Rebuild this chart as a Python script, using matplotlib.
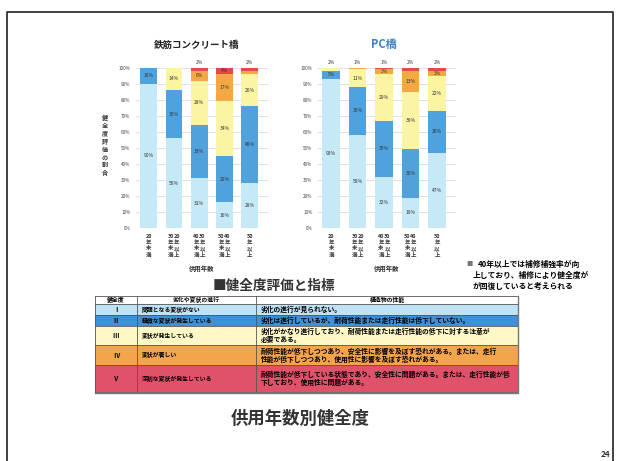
import re
import matplotlib
matplotlib.use("Agg")
import matplotlib.pyplot as plt
from matplotlib.patches import Rectangle

plt.rcParams['font.family'] = ['Noto Sans CJK JP', 'DejaVu Sans']

# ---- data -------------------------------------------------------------
categories = ["20年未満", "20年以上|30年未満", "30年以上|40年未満",
              "40年以上|50年未満", "50年以上"]
grades = ["Ⅰ", "Ⅱ", "Ⅲ", "Ⅳ", "Ⅴ"]

rc_I = [90, 56, 31, 16, 28]
rc_II = [10, 30, 33, 29, 48]
rc_III = [0, 14, 28, 34, 20]
rc_IV = [0, 0, 6, 17, 2]
rc_V = [0, 0, 2, 4, 2]

pc_I = [93, 58, 32, 19, 47]
pc_II = [5, 30, 35, 30, 26]
pc_III = [2, 11, 29, 36, 22]
pc_IV = [0, 1, 3, 13, 3]
pc_V = [0, 0, 1, 2, 2]

yticks = list(range(0, 101, 10))

table_header = ["健全度", "劣化や変状の進行", "構造物の性能"]
table_state = ["問題となる変状がない", "軽微な変状が発生している", "変状が発生している",
               "変状が著しい", "深刻な変状が発生している"]
table_perf = [
    "劣化の進行が見られない。",
    "劣化は進行しているが、耐荷性能または走行性能は低下していない。",
    "劣化がかなり進行しており、耐荷性能または走行性能の低下に対する注意が\n必要である。",
    "耐荷性能が低下しつつあり、安全性に影響を及ぼす恐れがある。または、走行\n性能が低下しつつあり、使用性に影響を及ぼす恐れがある。",
    "耐荷性能が低下している状態であり、安全性に問題がある。または、走行性能が低\n下しており、使用性に問題がある。",
]

bar_colors = ["#c6e9f7", "#4fa2dc", "#fbf4a2", "#f4a844", "#e5484f"]
row_colors = ["#bfe2f4", "#3f90d4", "#fdf8c6", "#f2a54c", "#e0526a"]

# ---- figure -----------------------------------------------------------
W, H = 620, 461
fig = plt.figure(figsize=(W / 100, H / 100), dpi=100)
fig.patch.set_facecolor("white")


def px_axes(x0, y_top, x1, y_bot):
    return fig.add_axes([x0 / W, 1 - y_bot / H, (x1 - x0) / W, (y_bot - y_top) / H])


def cells(s):
    return re.findall(r"\d+|.", s)


def stacked_bars(ax, series):
    n = len(series[0])
    xs = list(range(n))
    bottoms = [0] * n
    for k, vals in enumerate(series):
        ax.bar(xs, vals, bottom=bottoms, width=0.66, color=bar_colors[k],
               edgecolor="none", zorder=2)
        for i, v in enumerate(vals):
            if v <= 0:
                continue
            top_seg = all(series[j][i] == 0 for j in range(k + 1, len(series)))
            if v <= 2 and top_seg:
                ax.text(i, 101.5, f"{v}%", ha="center", va="bottom",
                        fontsize=3.5, color="#333333", zorder=3)
            elif v >= 3:
                ax.text(i, bottoms[i] + v / 2, f"{v}%", ha="center", va="center",
                        fontsize=3.5, color="#333333", zorder=3)
        bottoms = [b + v for b, v in zip(bottoms, vals)]
    ax.set_xlim(-0.5, 4.72)
    ax.set_ylim(0, 100)
    ax.set_yticks(yticks)
    ax.set_yticklabels([f"{t}%" for t in yticks], fontsize=3.3, color="#444444")
    ax.tick_params(axis="y", length=0, pad=4)
    ax.set_xticks([])
    ax.yaxis.grid(True, color="#dadada", lw=0.6, zorder=0)
    for s in ax.spines.values():
        s.set_visible(False)
    for i, cat in enumerate(categories):
        parts = cat.split("|")
        m = len(parts)
        for j, part in enumerate(parts):
            dx = (m - 1) * 3.0 - j * 6.0
            ax.annotate("\n".join(cells(part)), xy=(i, 0),
                        xycoords=("data", "axes fraction"), xytext=(dx, -6),
                        textcoords="offset pixels", ha="center", va="top",
                        fontsize=3.9, linespacing=1.3, fontweight="bold",
                        color="#333333")
    ax.annotate("供用年数", xy=(0.5, 0), xycoords="axes fraction",
                xytext=(0, -37), textcoords="offset pixels", ha="center",
                va="top", fontsize=4.6, fontweight="bold", color="#333333")


ax1 = px_axes(136, 67.7, 268, 228)
stacked_bars(ax1, [rc_I, rc_II, rc_III, rc_IV, rc_V])

ax2 = px_axes(318, 67.7, 456, 228)
stacked_bars(ax2, [pc_I, pc_II, pc_III, pc_IV, pc_V])

# ---- overlay in pixel coordinates ----------------------------------
ov = fig.add_axes([0, 0, 1, 1], zorder=-1)
ov.set_xlim(0, W)
ov.set_ylim(H, 0)
ov.axis("off")

# slide frame
ov.plot([7, 7, 613, 613], [470, 12, 12, 470], color="#333333", lw=1.3)

# chart titles
ov.text(197, 45, "鉄筋コンクリート橋", fontsize=6.8, fontweight="bold",
        ha="center", va="center", color="#222222")
ov.text(384, 44, "PC橋", fontsize=8, fontweight="bold",
        ha="center", va="center", color="#3d7fc4")

ov.text(105, 145, "\n".join("健全度評価の割合"), ha="center", va="center",
        fontsize=4.4, linespacing=1.15, fontweight="bold", color="#333333")

# note on the right
ov.text(466, 264, "■", fontsize=4.5, color="#777777", ha="left", va="center")
note = ["40年以上では補修補強率が向", "上しており、補修により健全度が",
        "が回復していると考えられる"]
ov.text(478, 264, note[0], fontsize=5.6, fontweight="bold", ha="left", va="center")
ov.text(473, 275, note[1], fontsize=5.6, fontweight="bold", ha="left", va="center")
ov.text(473, 286, note[2], fontsize=5.6, fontweight="bold", ha="left", va="center")

# table
ov.text(274, 286, "■健全度評価と指標", fontsize=9.8, fontweight="bold",
        ha="center", va="center", color="#333333")
cols = [95, 137, 256, 518]
rows = [296, 304, 315, 326, 345, 365, 392]
for r in range(5):
    ov.add_patch(Rectangle((cols[0], rows[r + 1]), cols[3] - cols[0],
                           rows[r + 2] - rows[r + 1], facecolor=row_colors[r],
                           edgecolor="none"))
for y in rows:
    ov.plot([cols[0], cols[3]], [y, y], color="#555555", lw=0.6)
for x in cols:
    ov.plot([x, x], [rows[0], rows[-1]], color="#555555", lw=0.6)
ov.plot([cols[0], cols[3], cols[3]], [rows[-1] + 1, rows[-1] + 1, rows[0]],
        color="#777777", lw=1.0)

yc = (rows[0] + rows[1]) / 2
ov.text((cols[0] + cols[1]) / 2, yc, table_header[0], fontsize=4.2,
        fontweight="bold", ha="center", va="center")
ov.text((cols[1] + cols[2]) / 2, yc, table_header[1], fontsize=4.2,
        fontweight="bold", ha="center", va="center")
ov.text((cols[2] + cols[3]) / 2, yc, table_header[2], fontsize=4.2,
        fontweight="bold", ha="center", va="center")
for r in range(5):
    yc = (rows[r + 1] + rows[r + 2]) / 2
    ov.text((cols[0] + cols[1]) / 2, yc, grades[r], fontsize=4.6,
            fontweight="bold", ha="center", va="center")
    ov.text(cols[1] + 5, yc, table_state[r], fontsize=4.2, fontweight="bold",
            ha="left", va="center")
    ov.text(cols[2] + 5, yc, table_perf[r], fontsize=4.9, fontweight="bold",
            ha="left", va="center", linespacing=1.1)

ov.text(300, 419, "供用年数別健全度", fontsize=12.5, fontweight="bold",
        ha="center", va="center", color="#333333")
ov.text(610, 454, "24", fontsize=6, fontweight="bold", ha="right",
        va="center", color="#333333")

fig.savefig("out.png", dpi=100, facecolor="white")
